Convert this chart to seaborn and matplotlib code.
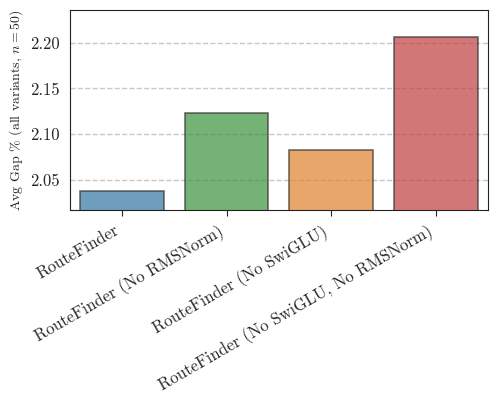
import matplotlib
matplotlib.use("Agg")
import matplotlib.pyplot as plt
import seaborn as sns
import pandas as pd

# Data
models = ["RouteFinder", "RouteFinder (No RMSNorm)", "RouteFinder (No SwiGLU)",
          "RouteFinder (No SwiGLU, No RMSNorm)"]
avg_gap = [2.037, 2.123, 2.082, 2.206]
colors = ["#1f77b4", "#2ca02c", "#ff7f0e", "#d62728"]

df = pd.DataFrame({"model": models, "gap": avg_gap})

sns.set_style("white")
plt.rcParams["font.family"] = "serif"
plt.rcParams["font.serif"] = ["cmr10"]
plt.rcParams["mathtext.fontset"] = "cm"
plt.rcParams["axes.formatter.use_mathtext"] = True
plt.rcParams["axes.unicode_minus"] = False

fig, ax = plt.subplots(figsize=(4.98, 4.03), dpi=100)
sns.barplot(data=df, x="model", y="gap", hue="model", palette=colors, legend=False,
            edgecolor="#333333", linewidth=1.2, alpha=0.7, ax=ax)

ax.set_ylim(2.017, 2.236)
ax.set_yticks([2.05, 2.10, 2.15, 2.20])
ax.yaxis.set_major_formatter(matplotlib.ticker.FormatStrFormatter("%.2f"))
ax.grid(axis="y", linestyle="--", color="#c8c8c8", linewidth=1)
ax.set_axisbelow(True)
ax.set_xlabel("")
ax.set_ylabel(r"Avg Gap % (all variants, $n=50$)", fontsize=10)
ax.tick_params(axis="x", bottom=True, length=4, pad=5, labelsize=12)
ax.tick_params(axis="y", left=False, labelsize=12)
plt.setp(ax.get_xticklabels(), rotation=30, ha="right")
for s in ax.spines.values():
    s.set_color("#222222")

fig.subplots_adjust(left=0.14, right=0.98, top=0.975, bottom=0.48)
fig.savefig("out.png", dpi=100)
